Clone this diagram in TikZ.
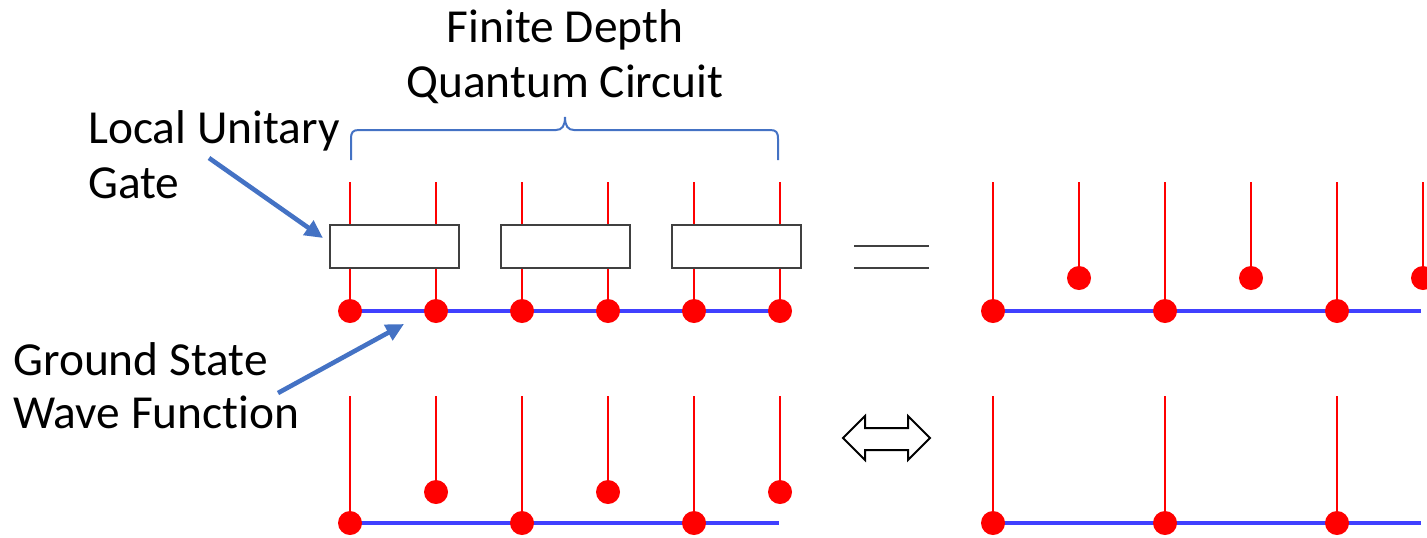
\documentclass[tikz,border=0pt]{standalone}
\usepackage{fontspec}
\setmainfont[Ligatures=NoCommon]{Carlito}
\usetikzlibrary{arrows.meta}
\definecolor{legred}{RGB}{255,0,0}
\definecolor{chainblue}{RGB}{64,64,255}
\definecolor{annblue}{RGB}{68,114,196}
\definecolor{gategray}{RGB}{64,64,64}
\begin{document}
\begin{tikzpicture}[x=0.5pt,y=-0.5pt,
  site/.style={circle,fill=legred,inner sep=0pt,minimum size=12pt},
  leg/.style={draw=legred,line width=1.4pt},
  chain/.style={draw=chainblue,line width=1.8pt},
  gatebox/.style={draw=gategray,fill=white,line width=1pt,minimum width=64.5pt,minimum height=21.5pt,inner sep=0pt},
  lbl/.style={font=\fontsize{23.7}{28}\selectfont,inner sep=0pt},
  pointer/.style={draw=annblue,line width=2.3pt,-{Triangle[length=9pt,width=8.5pt]}},
  brace/.style={draw=annblue,line width=1pt},
  symb/.style={draw=gategray,line width=1.1pt}
]
\useasboundingbox (0,0) rectangle (1427,537);

% ---------- coordinates ----------
% top-left circuit
\foreach \i in {0,...,5}{
  \pgfmathsetmacro{\xx}{350+86*\i}
  \coordinate (tl\i) at (\xx,311);
  \coordinate (tlt\i) at (\xx,182);
}
% bottom-left
\foreach \i in {0,...,5}{
  \pgfmathsetmacro{\xx}{350+86*\i}
  \coordinate (blt\i) at (\xx,396);
}
\foreach \i/\xx in {0/350,2/522,4/694}{ \coordinate (bl\i) at (\xx,523); }
\foreach \i/\xx in {1/436,3/608,5/780}{ \coordinate (bl\i) at (\xx,492); }
\coordinate (blend) at (779,523);
% right column
\foreach \i in {0,...,5}{
  \pgfmathsetmacro{\xx}{993+86*\i}
  \coordinate (trt\i) at (\xx,182);
  \coordinate (brt\i) at (\xx,396);
}
\foreach \i/\xx in {0/993,2/1165,4/1337}{
  \coordinate (tr\i) at (\xx,311);
  \coordinate (br\i) at (\xx,523);
}
\foreach \i/\xx in {1/1079,3/1251,5/1423}{ \coordinate (tr\i) at (\xx,278); }
\coordinate (trend) at (1421,311);
\coordinate (brend) at (1421,523);

% ---------- legs ----------
\foreach \i in {0,...,5}{ \draw[leg] (tlt\i) -- (tl\i); \draw[leg] (blt\i) -- (bl\i); }
\foreach \i in {0,...,5}{ \draw[leg] (trt\i) -- (tr\i); }
\foreach \i in {0,2,4}{ \draw[leg] (brt\i) -- (br\i); }

% ---------- chains ----------
\draw[chain] (tl0) -- (tl5);
\draw[chain] (bl0) -- (blend);
\draw[chain] (tr0) -- (trend);
\draw[chain] (br0) -- (brend);

% ---------- gates ----------
\node[gatebox] (g1) at (394.5,246.5) {};
\node[gatebox] (g2) at (565,246.5) {};
\node[gatebox] (g3) at (736.5,246.5) {};

% ---------- sites ----------
\foreach \i in {0,...,5}{
  \node[site] (stl\i) at (tl\i) {};
  \node[site] (sbl\i) at (bl\i) {};
  \node[site] (str\i) at (tr\i) {};
}
\foreach \i in {0,2,4}{ \node[site] (sbr\i) at (br\i) {}; }

% ---------- brace ----------
\draw[brace] (351,160) -- (351,139) .. controls (351,132) and (353,130) .. (359,130)
  -- (556,130) .. controls (562,130) and (565,126) .. (565,117)
  .. controls (565,126) and (568,130) .. (574,130)
  -- (770,130) .. controls (776,130) and (778,132) .. (778,139) -- (778,160);

% ---------- equals sign ----------
\draw[symb] (854,246) -- (929,246);
\draw[symb] (854,268) -- (929,268);

% ---------- double arrow ----------
\draw[draw=black,line width=1pt,fill=white,line join=miter]
  (843,438) -- (865,416) -- (865,428) -- (908,428) -- (908,416) -- (930,438)
  -- (908,460) -- (908,450) -- (865,450) -- (865,460) -- cycle;

% ---------- labels ----------
\node[lbl,anchor=base] (title1) at (565,42) {Finite Depth};
\node[lbl,anchor=base] (title2) at (565,97) {Quantum Circuit};
\node[lbl,anchor=base west] (lug1) at (88,143) {Local Unitary};
\node[lbl,anchor=base west] (lug2) at (88,198) {Gate};
\node[lbl,anchor=base west] (gs1) at (13,375) {Ground State};
\node[lbl,anchor=base west] (gs2) at (13,428) {Wave Function};

% ---------- pointers ----------
\coordinate (p1tail) at (209,158);
\coordinate (p1head) at (323,238);
\coordinate (p2tail) at (278,393);
\coordinate (p2head) at (404,324);
\draw[pointer] (p1tail) -- (p1head);
\draw[pointer] (p2tail) -- (p2head);
\end{tikzpicture}
\end{document}
